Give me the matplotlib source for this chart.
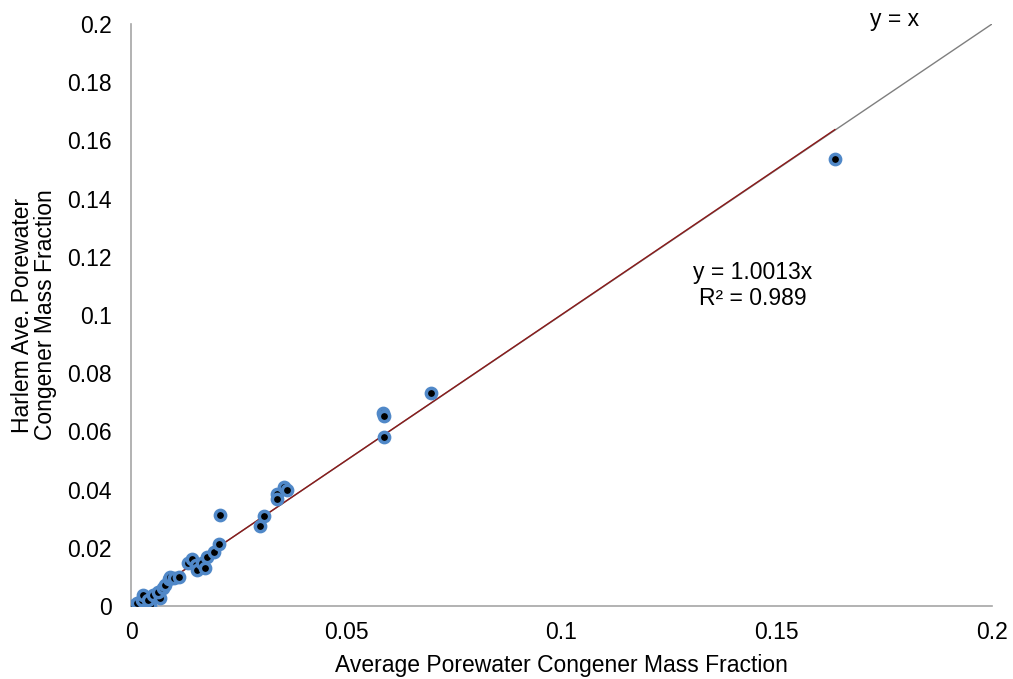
import matplotlib
matplotlib.use("Agg")
import matplotlib.pyplot as plt
import numpy as np

plt.rcParams['font.family'] = ['Liberation Sans', 'DejaVu Sans']

avg_porewater = [0.0, 0.0013, 0.0025, 0.0028, 0.0044, 0.0039, 0.0051, 0.0067, 0.0063,
                 0.0074, 0.0079, 0.0088, 0.0091, 0.0100, 0.0111, 0.0132, 0.0142, 0.0151,
                 0.0153, 0.0165, 0.0172, 0.0177, 0.0193, 0.0204, 0.0207, 0.0300, 0.0309,
                 0.0339, 0.0339, 0.0355, 0.0362, 0.0585, 0.0588, 0.0588, 0.0697, 0.1635]
harlem = [0.0, 0.0010, 0.0020, 0.0038, 0.0003, 0.0020, 0.0038, 0.0027, 0.0048,
          0.0062, 0.0072, 0.0093, 0.0100, 0.0096, 0.0100, 0.0148, 0.0162, 0.0141,
          0.0124, 0.0148, 0.0131, 0.0168, 0.0186, 0.0213, 0.0313, 0.0275, 0.0309,
          0.0385, 0.0368, 0.0409, 0.0399, 0.0663, 0.0653, 0.0581, 0.0732, 0.1536]
slope = 1.0013
r2 = 0.989
x_ticks = [0, 0.05, 0.1, 0.15, 0.2]
x_tick_labels = ['0', '0.05', '0.1', '0.15', '0.2']
y_ticks = [0, 0.02, 0.04, 0.06, 0.08, 0.1, 0.12, 0.14, 0.16, 0.18, 0.2]
y_tick_labels = ['0', '0.02', '0.04', '0.06', '0.08', '0.1', '0.12', '0.14', '0.16', '0.18', '0.2']

fig = plt.figure(figsize=(10.13, 6.79), dpi=100)
ax = fig.add_axes([131/1013, 1-606/679, (992-131)/1013, (606-24)/679])

# y = x reference line
ax.plot([0, 0.2], [0, 0.2], color='#7f7f7f', lw=1.0, zorder=1)
# trendline
xmax = max(avg_porewater)
ax.plot([0, xmax], [0, slope*xmax], color='#8b1a1a', lw=1.0, zorder=2)

ax.scatter(avg_porewater, harlem, s=55, facecolor='black', edgecolor='#5088c8',
           linewidths=2.5, zorder=3)

ax.set_xlim(0, 0.2)
ax.set_ylim(0, 0.2)
ax.set_xticks(x_ticks)
ax.set_xticklabels(x_tick_labels)
ax.set_yticks(y_ticks)
ax.set_yticklabels(y_tick_labels)
ax.tick_params(length=0, labelsize=16.5, colors='black', pad=11)
ax.tick_params(axis='y', pad=14)
for s in ['top', 'right']:
    ax.spines[s].set_visible(False)
for s in ['left', 'bottom']:
    ax.spines[s].set_color('#a6a6a6')
    ax.spines[s].set_linewidth(1.2)

ax.set_xlabel('Average Porewater Congener Mass Fraction', fontsize=16.5, labelpad=7)
ax.set_ylabel('Harlem Ave. Porewater\nCongener Mass Fraction', fontsize=16.5, labelpad=7,
              linespacing=1.0)

ax.text(0.1445, 0.1101, 'y = 1.0013x\nR² = 0.989', fontsize=16.5, ha='center', va='center',
        linespacing=1.2)
ax.text(0.1774, 0.2015, 'y = x', fontsize=16.5, ha='center', va='center')

fig.savefig('out.png', dpi=100)
